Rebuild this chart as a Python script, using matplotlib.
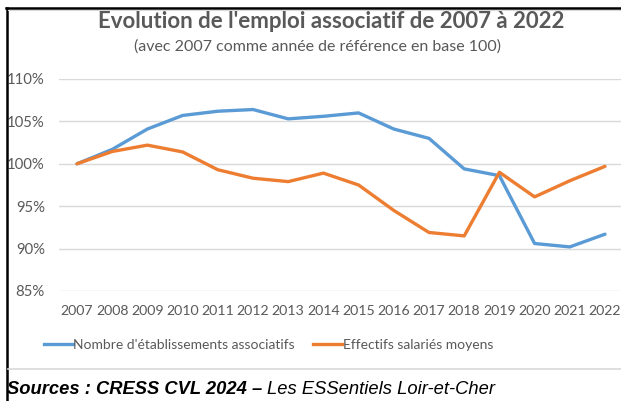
import matplotlib
matplotlib.use("Agg")
import matplotlib.pyplot as plt
from matplotlib.lines import Line2D
import numpy as np

years = list(range(2007, 2023))
etablissements = [100.0, 101.7, 104.1, 105.7, 106.2, 106.4, 105.3, 105.6,
                  106.0, 104.1, 103.0, 99.4, 98.6, 90.6, 90.2, 91.7]
effectifs = [100.0, 101.45, 102.2, 101.4, 99.3, 98.3, 97.9, 98.9,
             97.5, 94.5, 91.9, 91.5, 99.0, 96.1, 98.0, 99.7]
series_labels = ["Nombre d'établissements associatifs", "Effectifs salariés moyens"]
yticks = [85, 90, 95, 100, 105, 110]

BLUE = "#5B9BD5"
ORANGE = "#ED7D31"
GREY_TXT = "#595959"
GRID = "#D9D9D9"
FONT = ["Lato", "DejaVu Sans"]

W, H = 621, 401
fig = plt.figure(figsize=(W / 100, H / 100), dpi=100)


def fx(px):
    return px / W


def fy(py):
    return 1 - py / H


# plot area: category axis with half-bin padding like Excel
left, right = 59.4, 622.6
top, bottom = 79, 291
ax = fig.add_axes([fx(left), fy(bottom), fx(right - left), (bottom - top) / H])

x = np.arange(len(years))
ax.plot(x, etablissements, color=BLUE, lw=2.4, solid_capstyle="round",
        solid_joinstyle="round", zorder=3)
ax.plot(x, effectifs, color=ORANGE, lw=2.4, solid_capstyle="round",
        solid_joinstyle="round", zorder=3)

ax.set_xlim(-0.5, len(years) - 0.5)
ax.set_ylim(85, 110)
ax.set_yticks(yticks)
ax.set_yticklabels([f"{v}%" for v in yticks], family=FONT, fontsize=10.7,
                   color=GREY_TXT)
ax.set_xticks(x)
ax.set_xticklabels([str(y) for y in years], family=FONT, fontsize=10.2,
                   color=GREY_TXT)
ax.tick_params(length=0)
ax.tick_params(axis="y", pad=10.5)
ax.tick_params(axis="x", pad=10)
for s in ax.spines.values():
    s.set_visible(False)
ax.grid(axis="y", color=GRID, lw=1.0)
ax.set_axisbelow(True)

# titles
fig.text(fx(331), fy(22), "Evolution de l'emploi associatif de 2007 à 2022",
         ha="center", va="center", family=FONT, fontsize=16, fontweight="bold",
         color=GREY_TXT)
fig.text(fx(317), fy(47), "(avec 2007 comme année de référence en base 100)",
         ha="center", va="center", family=FONT, fontsize=11.5, color=GREY_TXT)

# legend
handles = [Line2D([], [], color=BLUE, lw=2.4),
           Line2D([], [], color=ORANGE, lw=2.4)]
fig.legend(handles, series_labels, loc="center", bbox_to_anchor=(fx(268.5), fy(345)),
           ncol=2, frameon=False, handlelength=2.1, handletextpad=0.05,
           columnspacing=1.3, prop={"family": FONT, "size": 10},
           labelcolor=GREY_TXT)

# frame lines
fig.add_artist(Line2D([fx(6), 1], [fy(7.5), fy(7.5)], color="black", lw=1.8))
fig.add_artist(Line2D([fx(6.5), fx(6.5)], [fy(7.5), 0], color="black", lw=1.8))
fig.add_artist(Line2D([fx(8), 1], [fy(9.5), fy(9.5)], color=GRID, lw=0.8))
fig.add_artist(Line2D([fx(8), 1], [fy(369), fy(369)], color=GRID, lw=1.2))

# source line
src = fig.text(fx(7), fy(389), "Sources : CRESS CVL 2024 – ", ha="left",
               va="center", family="Liberation Sans", fontsize=13.2,
               fontweight="bold", style="italic", color="black")
plt.annotate("Les ESSentiels Loir-et-Cher", xy=(1, 0.5), xycoords=src,
             ha="left", va="center", family="Liberation Sans",
             fontsize=13.2, style="italic", color="black",
             annotation_clip=False)

fig.savefig("out.png", dpi=100, facecolor="white")
